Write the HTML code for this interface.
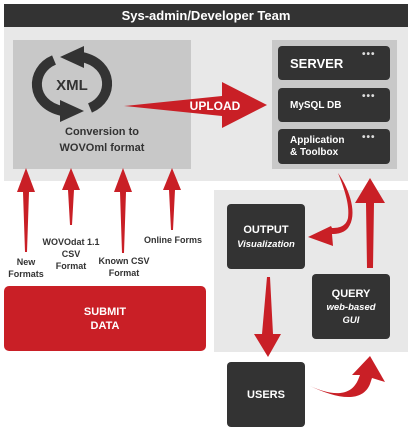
<!DOCTYPE html>
<html><head><style>
body{margin:0;width:410px;height:431px;background:#fff;position:relative;font-family:"Liberation Sans",sans-serif;font-weight:bold;overflow:hidden}
.a{position:absolute}
.dk{background:#333;border-radius:4px;color:#fff;position:absolute}
.lb{position:absolute;font-size:9px;color:#333;text-align:center;line-height:12px}
</style></head><body>
<div class="a" style="left:4px;top:4px;width:404px;height:23px;background:#333;color:#fff;font-size:13px;text-align:center;line-height:23px">Sys-admin/Developer Team</div>
<div class="a" style="left:4px;top:27px;width:404px;height:154px;background:#e8e8e8"></div>
<div class="a" style="left:13px;top:40px;width:178px;height:129px;background:#c8c8c8"></div>
<div class="a" style="left:272px;top:40px;width:125px;height:129px;background:#c8c8c8"></div>
<div class="dk" style="left:278px;top:46px;width:112px;height:34px;font-size:13px;line-height:36px;padding-left:12px;box-sizing:border-box">SERVER</div>
<div class="dk" style="left:278px;top:88px;width:112px;height:34px;font-size:10px;line-height:36px;padding-left:12px;box-sizing:border-box">MySQL DB</div>
<div class="dk" style="left:278px;top:129px;width:112px;height:35px;font-size:10px;line-height:12px;padding:6px 0 0 12px;box-sizing:border-box">Application<br>&amp; Toolbox</div>
<div class="a" style="left:362px;top:49px;color:#ddd;font-size:10px;letter-spacing:1px">•••</div>
<div class="a" style="left:362px;top:91px;color:#ddd;font-size:10px;letter-spacing:1px">•••</div>
<div class="a" style="left:362px;top:132px;color:#ddd;font-size:10px;letter-spacing:1px">•••</div>
<div class="a" style="left:214px;top:190px;width:194px;height:162px;background:#e8e8e8"></div>
<div class="dk" style="left:227px;top:204px;width:78px;height:65px;text-align:center;font-size:11px;padding-top:19px;box-sizing:border-box;line-height:14px">OUTPUT<br><i style="font-size:9.5px">Visualization</i></div>
<div class="dk" style="left:312px;top:274px;width:78px;height:65px;text-align:center;font-size:11px;padding-top:14px;box-sizing:border-box;line-height:13px">QUERY<br><i style="font-size:9.5px">web-based<br>GUI</i></div>
<div class="dk" style="left:227px;top:362px;width:78px;height:65px;text-align:center;font-size:11px;line-height:67px">USERS</div>
<div class="a" style="left:4px;top:286px;width:202px;height:65px;background:#c91f26;border-radius:5px;color:#fff;font-size:11px;text-align:center;line-height:14px;padding-top:19px;box-sizing:border-box">SUBMIT<br>DATA</div>
<div class="a" style="left:13px;top:124px;width:178px;text-align:center;font-size:11px;color:#333;line-height:16px">Conversion to<br>WOVOml format</div>
<div class="lb" style="left:0;top:256px;width:52px">New<br>Formats</div>
<div class="lb" style="left:38px;top:236px;width:66px">WOVOdat 1.1<br>CSV<br>Format</div>
<div class="lb" style="left:94px;top:255px;width:60px">Known CSV<br>Format</div>
<div class="lb" style="left:140px;top:234px;width:66px">Online Forms</div>
<svg class="a" style="left:0;top:0" width="410" height="431">
<g fill="#c91f26">
<polygon points="124,106 222,96 222,82 267,105 222,128 222,116"/>
<polygon points="26,168 35,192 29,192 27,252 25,252 23,192 17,192"/>
<polygon points="71,168 80,190 74,190 72,225 70,225 68,190 62,190"/>
<polygon points="123,168 132,192 126,192 124,253 122,253 120,192 114,192"/>
<polygon points="172,168 181,190 175,190 173,230 171,230 169,190 163,190"/>
<polygon points="370,178 385,203 374,203 373,268 367,268 366,203 355,203"/>
<polygon points="267,277 270,277 273,334 281,334 268,357 254,334 262,334"/>
<path d="M338,173 C350,190 358,215 348,228 C343,234 335,234 332,234 L333,246 L308,237 L331,226 L332,228 C340,228 346,226 348,218 C350,205 344,188 338,173Z"/>
<path d="M310,386 C330,395 350,398 358,380 L360,375 L352,375 L370,356 L385,382 L372,378 L370,384 C362,404 335,398 310,386Z"/>
</g>
<text x="215" y="110" fill="#fff" font-size="12" font-weight="bold" text-anchor="middle" font-family="Liberation Sans">UPLOAD</text>
<g fill="none" stroke="#333" stroke-width="10">
<path d="M54,60 C30,70 30,104 62,111"/>
<path d="M90,108 C114,98 114,64 82,57"/>
</g>
<polygon points="60,100 84,111 60,122" fill="#333"/>
<polygon points="84,46 60,57 84,68" fill="#333"/>
<text x="72" y="90" fill="#333" font-size="15" font-weight="bold" text-anchor="middle" font-family="Liberation Sans">XML</text>
</svg>
</body></html>
